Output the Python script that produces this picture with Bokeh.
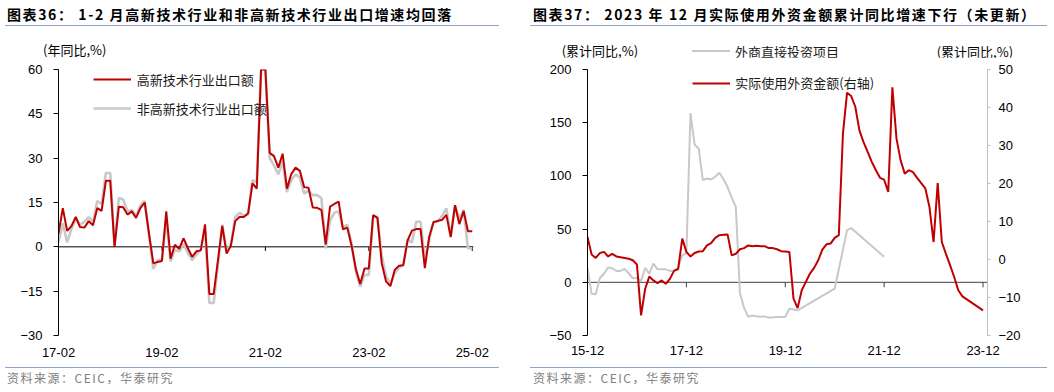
from bokeh.plotting import figure
from bokeh.models import Range1d, LinearAxis, FixedTicker, Legend, LegendItem, Div, Span
from bokeh.layouts import row, column
from bokeh.embed import file_html
from bokeh.resources import INLINE

# ---------------- data ----------------
def month_labels(y, m, count):
    out = []
    for _ in range(count):
        out.append("%02d-%02d" % (y % 100, m))
        m += 1
        if m > 12:
            m = 1
            y += 1
    return out

# Chart 36: export growth yoy (%), 17-02 .. 25-02
export_months = month_labels(2017, 2, 97)
hi_tech = [4.5, 13.1, 5.4, 7.0, 10.1, 6.7, 6.5, 8.7, 7.3, 13.1, 12.2, 22.4,
           22.4, 0.0, 13.6, 13.4, 10.9, 12.0, 9.8, 13.1, 15.0, 4.5, -5.6, -5.1,
           -4.8, 12.0, -4.0, 0.7, -0.7, 2.9, -0.4, -3.4, -1.5, -1.2, 7.6, -16.0,
           -16.0, -4.5, 7.1, -2.3, 0.4, 8.7, 10.1, 10.1, 11.4, 21.5, 19.7, 60.0,
           60.0, 31.8, 30.7, 26.8, 31.5, 19.7, 24.6, 26.8, 25.7, 20.2, 20.0, 13.3,
           13.2, 12.5, 0.8, 13.6, 14.5, 15.3, 5.9, 6.5, 0.4, -7.5, -12.6, -7.3,
           -7.3, 10.7, 9.8, -5.6, -11.7, -13.3, -7.8, -6.4, -6.2, 2.2, 5.5, 6.0,
           6.0, -7.2, 3.3, 8.3, 8.8, 9.1, 10.8, 3.3, 14.1, 7.7, 12.1, 5.3,
           5.3]
non_hi_tech = [1.5, 8.0, 1.5, 6.0, 9.5, 7.5, 8.5, 10.0, 8.5, 15.5, 14.5, 25.0,
               25.0, 0.5, 16.5, 16.0, 12.0, 12.5, 10.5, 14.0, 15.5, 4.0, -7.5, -4.5,
               -4.5, 9.5, -5.0, -1.0, -1.5, 1.0, -2.0, -4.5, -2.5, -1.0, 5.5, -19.0,
               -19.0, -6.0, 7.5, -1.5, 1.0, 10.0, 11.5, 10.5, 11.0, 22.5, 22.0, 60.0,
               60.0, 30.0, 27.5, 24.5, 29.0, 18.5, 22.5, 24.5, 23.5, 18.0, 19.0, 17.5,
               17.5, 16.5, -0.5, 9.0, 11.5, 12.0, 6.5, 7.5, 1.0, -8.5, -13.5, -9.5,
               -9.5, 10.5, 10.0, -3.0, -10.0, -12.5, -9.0, -7.0, -6.0, 2.5, 1.5, 8.5,
               8.5, -4.5, 2.5, 8.5, 8.5, 10.5, 13.0, 3.5, 14.0, 9.5, 12.5, -0.5,
               -0.5]
left_tick_labels = ["17-02", "19-02", "21-02", "23-02", "25-02"]
left_y_ticks = [-30, -15, 0, 15, 30, 45, 60]

# Chart 37: cumulative yoy (%)
fdi_months = month_labels(2015, 12, 92) + ["23-12"]
fdi_actual = [5.9, 1.3, 0.4, 1.7, 2.0, 0.8, 1.5, 0.8, 0.6, 0.4, 0.2, -0.2,
              -1.3, -14.7, -7.7, -4.5, -5.5, -6.2, -5.5, -6.4, -5.1, -3.0, -2.5, 5.5,
              2.0, 0.8, 1.7, 2.1, 2.2, 3.7, 4.3, 5.7, 6.4, 6.5, 6.6, 1.1,
              1.5, 2.7, 3.0, 3.7, 3.5, 3.6, 3.5, 3.5, 3.0, 3.0, 2.7, 2.2,
              2.1, 2.0, -10.3, -12.8, -8.1, -5.9, -3.7, -2.2, -0.2, 2.6, 4.0, 4.2,
              5.7, 6.4, 33.1, 43.9, 43.0, 40.2, 34.0, 30.9, 28.3, 25.7, 23.5, 21.5,
              21.0, 17.8, 45.3, 31.8, 26.1, 22.6, 23.5, 23.0, 21.5, 20.1, 18.7, 13.8,
              4.6, 20.1, 4.6, 1.5, -1.5, -4.6, -8.1, -9.7,
              -13.4]
proj_months = month_labels(2015, 12, 52) + ["20-12", "21-03", "21-04", "21-12"]
fdi_projects = [13.5, -10.7, -11.3, 4.0, 8.0, 14.0, 13.2, 10.7, 10.7, 12.6, 8.5, 3.8,
                4.0, 1.3, 13.5, 8.2, 17.6, 12.2, 12.2, 12.2, 10.7, 11.0, 13.5, 25.4,
                27.5, 159.0, 129.5, 125.5, 96.0, 97.6, 96.7, 99.2, 103.0, 97.0, 89.5, 79.5,
                70.9, -10.0, -24.0, -32.3, -31.3, -32.0, -32.3, -32.0, -33.0, -33.0, -32.5, -32.5,
                -32.3, -24.8, -25.5, -26.4,
                -6.0, 49.0, 51.0, 23.9]
right_tick_labels = ["15-12", "17-12", "19-12", "21-12", "23-12"]
left2_y_ticks = [-50, 0, 50, 100, 150, 200]
right2_y_ticks = [-20, -10, 0, 10, 20, 30, 40, 50]

RED = "#C00000"
GRAY = "#C8C8C8"
CJK = "Noto Sans CJK SC"
LAT = "Liberation Sans"
RULE = "#8FA4C8"
TXT = "font-family:'Noto Sans CJK SC';font-size:13px;line-height:13px;white-space:nowrap;position:absolute;"


def midx(label, base):
    yy, mm = map(int, label.split("-"))
    by, bm = map(int, base.split("-"))
    return (yy - by) * 12 + (mm - bm)


def style_axes(p):
    p.outline_line_color = None
    p.grid.visible = False
    for ax in p.axis:
        ax.major_label_text_font = LAT
        ax.major_label_text_font_size = "13px"
        ax.major_label_text_color = "#000000"
        ax.minor_tick_line_color = None


def legend(items, loc, **kw):
    opts = dict(glyph_width=38, glyph_height=20, label_height=20, label_standoff=6,
                spacing=9, padding=0, margin=0, border_line_color=None,
                background_fill_alpha=0, label_text_font=CJK, label_text_font_size="13px",
                label_text_color="#1A1A1A")
    opts.update(kw)
    return Legend(items=items, location=loc, **opts)


def header_div(title, ml, width, pl, extras):
    html = ('<div style="position:relative;width:527px;height:57px;margin:0;padding:0;">'
            '<div style="position:absolute;left:%dpx;top:0;padding:6px 0 0 %dpx;width:%dpx;height:26px;'
            'border-bottom:1.5px solid %s;font-family:\'Noto Sans CJK SC\';font-weight:bold;'
            'font-size:14px;letter-spacing:1.6px;line-height:16px;color:#000;white-space:nowrap;">%s</div>'
            % (ml, pl, width - pl, RULE, title)) + extras + '</div>'
    return Div(text=html, width=527, height=57, margin=0)


def footer_div(ml, width, pl):
    html = ('<div style="margin:3px 0 0 %dpx;padding:3px 0 0 %dpx;width:%dpx;'
            'border-top:1.4px solid %s;font-family:\'Noto Sans CJK SC\';'
            'font-size:12px;letter-spacing:1.5px;line-height:14px;color:#808080;white-space:nowrap;">'
            '资料来源：CEIC，华泰研究</div>' % (ml, pl, width - pl, RULE))
    return Div(text=html, width=527, height=28, margin=0)


# ---------------- left chart ----------------
LPPM = 4.31
p1 = figure(width=490, height=307, x_range=Range1d(0, 415 / LPPM), y_range=Range1d(-30, 60),
            toolbar_location=None, output_backend="svg",
            min_border_left=58, min_border_right=17, min_border_top=7, min_border_bottom=27)
style_axes(p1)
lx = [midx(m, "17-02") for m in export_months]
ltk = [midx(t, "17-02") for t in left_tick_labels]
p1.xaxis.ticker = FixedTicker(ticks=ltk, minor_ticks=[])
p1.xaxis.major_label_overrides = {t: l for t, l in zip(ltk, left_tick_labels)}
p1.xaxis.axis_line_color = None
p1.xaxis.major_tick_line_color = None
p1.xaxis.major_label_standoff = 6
ya = p1.yaxis[0]
ya.ticker = FixedTicker(ticks=left_y_ticks, minor_ticks=[])
ya.axis_line_color = "#000000"
ya.major_tick_line_color = "#000000"
ya.major_tick_out = 5
ya.major_tick_in = 0
ya.major_label_standoff = 11

p1.add_layout(Span(location=0, dimension="width", line_color="#000000", line_width=1, level="underlay"))
p1.segment(x0=ltk, y0=[0] * len(ltk), x1=ltk, y1=[-1.4] * len(ltk), line_color="#000000", line_width=1)
r_gray1 = p1.line(lx, non_hi_tech, line_color=GRAY, line_width=2.6)
r_red1 = p1.line(lx, hi_tech, line_color=RED, line_width=2)

p1.add_layout(legend([LegendItem(label="高新技术行业出口额", renderers=[r_red1]),
                      LegendItem(label="非高新技术行业出口额", renderers=[r_gray1])],
                     (34.7, 217)))

# ---------------- right chart ----------------
RPPM = 4.12
p2 = figure(width=564, height=307, x_range=Range1d(0, 400 / RPPM), y_range=Range1d(-50, 200),
            toolbar_location=None, output_backend="svg",
            min_border_left=97, min_border_right=67, min_border_top=12, min_border_bottom=29)
p2.extra_y_ranges = {"right": Range1d(-20, 50)}
rax = LinearAxis(y_range_name="right", ticker=FixedTicker(ticks=right2_y_ticks, minor_ticks=[]))
p2.add_layout(rax, "right")
style_axes(p2)
rtk = [midx(t, "15-12") for t in right_tick_labels]
p2.xaxis.ticker = FixedTicker(ticks=rtk, minor_ticks=[])
p2.xaxis.major_label_overrides = {t: l for t, l in zip(rtk, right_tick_labels)}
p2.xaxis.axis_line_color = None
p2.xaxis.major_tick_line_color = None
p2.xaxis.major_label_standoff = 4
la = p2.yaxis[0]
la.ticker = FixedTicker(ticks=left2_y_ticks, minor_ticks=[])
la.axis_line_color = "#000000"
la.major_tick_line_color = "#000000"
la.major_tick_out = 5
la.major_tick_in = 0
la.major_label_standoff = 11
rax.axis_line_color = "#BFBFBF"
rax.major_tick_line_color = "#BFBFBF"
rax.major_tick_out = 3
rax.major_tick_in = 0
rax.major_label_standoff = 8

p2.add_layout(Span(location=0, dimension="width", line_color="#404040", line_width=1, level="underlay"))
p2.segment(x0=rtk, y0=[0] * len(rtk), x1=rtk, y1=[-4.7] * len(rtk), line_color="#404040", line_width=1)
gx = [midx(m, "15-12") for m in proj_months]
rx = [midx(m, "15-12") for m in fdi_months]
r_gray2 = p2.line(gx, fdi_projects, line_color=GRAY, line_width=2)
r_red2 = p2.line(rx, fdi_actual, line_color=RED, line_width=2, y_range_name="right")

p2.add_layout(legend([LegendItem(label="实际使用外资金额(右轴)", renderers=[r_red2])],
                     (105.3, 242.3), label_standoff=5))

# ---------------- header / footer ----------------
h1_extra = '<div style="%sleft:43px;top:42.5px;color:#000;">(年同比,%%)</div>' % TXT
h2_extra = ('<div style="%sleft:34.7px;top:43.5px;color:#000;">(累计同比,%%)</div>' % TXT +
            '<div style="position:absolute;left:165.3px;top:50px;width:38px;height:2px;background:%s;"></div>' % GRAY +
            '<div style="%sleft:208px;top:44.5px;color:#1A1A1A;">外商直接投资项目</div>' % TXT +
            '<div style="%sleft:409.7px;top:44.5px;color:#000;">(累计同比,%%)</div>' % TXT)
t1 = header_div("图表36： 1-2 月高新技术行业和非高新技术行业出口增速均回落", 5, 496, 2, h1_extra)
t2 = header_div("图表37： 2023 年 12 月实际使用外资金额累计同比增速下行（未更新）", 3, 520, 3, h2_extra)
f1 = footer_div(5, 496, 2)
f2 = footer_div(3, 520, 3)

layout = column(row(t1, t2), row(p1, p2), row(f1, f2))
open("out.html", "w").write(file_html(layout, INLINE))
